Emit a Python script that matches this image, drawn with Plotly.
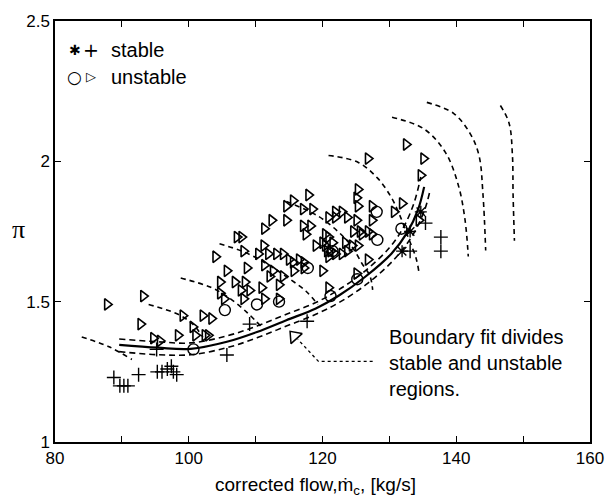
import plotly.graph_objects as go

# ---- data (corrected flow [kg/s], pressure ratio pi) ----
stable_plus_x = [88.8, 89.7, 90.3, 90.9, 92.5, 95.3, 96.0, 96.8, 97.4, 97.7, 98.2, 95.2, 105.7, 109.1, 117.7, 135.4, 133.1, 137.7, 137.7]
stable_plus_y = [1.23, 1.20, 1.20, 1.20, 1.24, 1.25, 1.25, 1.26, 1.27, 1.25, 1.24, 1.33, 1.31, 1.42, 1.43, 1.78, 1.68, 1.73, 1.68]
stable_star_x = [134.7, 131.9, 133.1]
stable_star_y = [1.82, 1.68, 1.75]

unstable_circ_x = [100.7, 105.4, 113.5, 117.8, 121.2, 121.5, 125.2, 128.1, 128.2, 131.8, 110.2]
unstable_circ_y = [1.33, 1.47, 1.50, 1.62, 1.52, 1.68, 1.58, 1.82, 1.72, 1.76, 1.49]

unstable_tri_x = [87.8, 93.2, 92.8, 94.7, 95.7, 98.4, 99.1, 102.1, 103.4, 100.6, 101.0, 102.4, 102.9,
                  104.0, 104.7, 104.7, 105.3, 105.7, 107.2, 107.9, 108.2, 106.9, 108.4, 107.8, 109.1, 108.2, 108.7,
                  110.9, 111.3, 111.2, 111.9, 113.1, 114.1, 110.4, 111.3, 112.6, 114.1, 113.5, 112.1,
                  115.6, 116.5, 117.2, 115.7, 117.2, 115.0, 117.1, 117.5, 118.2, 117.1, 118.5, 119.0, 120.0,
                  120.9, 120.7, 121.9, 120.0, 120.9, 121.9, 122.9, 120.9, 113.5, 117.9, 115.6, 114.6, 114.6, 112.4, 111.3,
                  134.7, 131.9, 130.7, 127.4, 127.4, 126.8, 125.3, 125.1, 125.3, 125.1, 124.6, 125.6, 127.4,
                  124.4, 125.3, 123.7, 122.9, 121.2, 120.4, 120.4, 121.9, 123.7, 132.5, 126.8, 135.1,
                  125.9, 123.4, 121.5, 120.9, 126.8, 125.1, 134.4]
unstable_tri_y = [1.49, 1.52, 1.42, 1.37, 1.36, 1.38, 1.45, 1.45, 1.44, 1.41, 1.38, 1.38, 1.38,
                  1.66, 1.57, 1.53, 1.51, 1.61, 1.73, 1.73, 1.68, 1.57, 1.57, 1.54, 1.54, 1.51, 1.62,
                  1.55, 1.51, 1.70, 1.67, 1.67, 1.67, 1.67, 1.63, 1.61, 1.59, 1.56, 1.59,
                  1.64, 1.65, 1.64, 1.61, 1.62, 1.65, 1.77, 1.74, 1.77, 1.83, 1.83, 1.70, 1.71,
                  1.73, 1.68, 1.67, 1.61, 1.80, 1.82, 1.82, 1.55, 1.51, 1.88, 1.86, 1.84, 1.79, 1.79, 1.76,
                  1.95, 1.85, 1.82, 1.84, 1.79, 1.75, 1.84, 1.87, 1.90, 1.79, 1.75, 1.75, 1.74,
                  1.70, 1.70, 1.68, 1.67, 1.68, 1.74, 1.70, 1.80, 1.80, 2.06, 2.01, 2.01,
                  1.74, 1.71, 1.71, 1.66, 1.65, 1.60, 1.79]

# boundary fit (solid) and its dashed confidence bands
bound_x = [89.6, 95.4, 100.3, 105.7, 110.2, 114.6, 119.0, 122.4, 126.3, 130.3, 132.7, 134.3, 135.2]
bound_y = [1.346, 1.336, 1.332, 1.357, 1.392, 1.434, 1.476, 1.521, 1.587, 1.671, 1.748, 1.829, 1.909]
upper_x = [89.6, 95.4, 100.3, 105.7, 110.2, 114.6, 119.0, 122.4, 126.3, 130.0, 132.2, 133.7, 134.7]
upper_y = [1.367, 1.357, 1.353, 1.378, 1.413, 1.455, 1.497, 1.542, 1.608, 1.692, 1.769, 1.853, 1.944]
lower_x = [89.6, 95.4, 100.3, 105.7, 110.2, 114.6, 119.0, 122.7, 126.8, 130.7, 133.4, 135.2, 136.0]
lower_y = [1.322, 1.311, 1.311, 1.336, 1.371, 1.413, 1.455, 1.500, 1.566, 1.650, 1.734, 1.822, 1.888]

# constant speed lines (dashed)
speed_lines = [
    ([84.0, 88.1, 91.5], [1.374, 1.339, 1.294]),
    ([94.0, 98.4, 100.6, 102.1], [1.490, 1.455, 1.420, 1.374]),
    ([98.8, 103.2, 106.0, 108.7, 110.9], [1.584, 1.552, 1.514, 1.462, 1.409]),
    ([104.6, 108.2, 111.6, 114.9, 117.5, 119.3], [1.706, 1.678, 1.636, 1.584, 1.538, 1.490]),
    ([114.6, 119.4, 122.4, 124.4, 125.9, 127.1, 127.5], [1.857, 1.804, 1.748, 1.696, 1.636, 1.591, 1.542]),
    ([120.9, 125.3, 128.2, 130.3, 131.5, 132.9, 134.0, 134.4], [2.021, 1.997, 1.941, 1.871, 1.811, 1.724, 1.654, 1.608]),
    ([130.4, 135.2, 138.4, 140.3, 141.3, 141.8], [2.157, 2.115, 2.031, 1.916, 1.794, 1.661]),
    ([135.6, 139.6, 142.1, 143.4, 144.0, 144.4], [2.210, 2.171, 2.098, 2.021, 1.881, 1.682]),
    ([146.6, 147.9, 148.4, 148.5, 148.7], [2.199, 2.136, 2.021, 1.881, 1.717]),
]

# annotation leader (dotted) and label
leader_x = [127.5, 119.4, 116.3]
leader_y = [1.287, 1.287, 1.366]
arrow_x = [115.8]
arrow_y = [1.377]
note_text = "Boundary fit divides<br>stable and unstable<br>regions."

FONT = "Liberation Sans, Arial, Helvetica, sans-serif"
fig = go.Figure()

for sx, sy in speed_lines:
    fig.add_trace(go.Scatter(x=sx, y=sy, mode="lines", line=dict(color="black", width=1.6, dash="5px,4px", shape="spline"),
                             hoverinfo="skip", showlegend=False))

fig.add_trace(go.Scatter(x=upper_x, y=upper_y, mode="lines", line=dict(color="black", width=1.6, dash="6px,4px", shape="spline"), showlegend=False))
fig.add_trace(go.Scatter(x=lower_x, y=lower_y, mode="lines", line=dict(color="black", width=1.6, dash="6px,4px", shape="spline"), showlegend=False))
fig.add_trace(go.Scatter(x=bound_x, y=bound_y, mode="lines", line=dict(color="black", width=2.2, shape="spline"), showlegend=False))

fig.add_trace(go.Scatter(x=unstable_tri_x, y=unstable_tri_y, mode="markers",
                         marker=dict(symbol="triangle-right-open", size=10, color="black", line=dict(width=1.6, color="black")), showlegend=False))
fig.add_trace(go.Scatter(x=unstable_circ_x, y=unstable_circ_y, mode="markers",
                         marker=dict(symbol="circle-open", size=11, color="black", line=dict(width=1.4, color="black")), showlegend=False))
fig.add_trace(go.Scatter(x=stable_plus_x, y=stable_plus_y, mode="markers",
                         marker=dict(symbol="cross-thin-open", size=10, color="black", line=dict(width=1.4, color="black")), showlegend=False))
fig.add_trace(go.Scatter(x=stable_star_x, y=stable_star_y, mode="markers",
                         marker=dict(symbol="asterisk-open", size=10, color="black", line=dict(width=1.4, color="black")), showlegend=False))

fig.add_trace(go.Scatter(x=leader_x, y=leader_y, mode="lines", line=dict(color="black", width=1.3, dash="dot"), showlegend=False))
fig.add_trace(go.Scatter(x=arrow_x, y=arrow_y, mode="markers",
                         marker=dict(symbol="triangle-up", size=13, angle=-42, color="white", line=dict(width=1.5, color="black")), showlegend=False))

fig.add_annotation(x=129.6, y=1.28, xref="x", yref="y", text=note_text, showarrow=False, xanchor="left", yanchor="middle",
                   align="left", font=dict(family=FONT, size=20, color="black"))

# legend drawn as text
def legend_item(x, y, txt, size, anchor="center"):
    fig.add_annotation(x=x, y=y, xref="paper", yref="paper", text=txt, showarrow=False, xanchor=anchor,
                       yanchor="middle", font=dict(family=FONT if anchor == "left" else "DejaVu Sans, sans-serif", size=size, color="black"))

legend_item(0.037, 0.932, "✱", 14)
legend_item(0.068, 0.932, "+", 19)
legend_item(0.101, 0.932, "stable", 20, "left")
legend_item(0.037, 0.867, "○", 17)
legend_item(0.068, 0.867, "▷", 13)
legend_item(0.101, 0.867, "unstable", 20, "left")

# axis titles
fig.add_annotation(x=-0.068, y=0.505, xref="paper", yref="paper", text="π", showarrow=False, xanchor="center",
                   yanchor="middle", font=dict(family="Liberation Serif, serif", size=26, color="black"))
fig.add_annotation(x=0.487, y=-0.105, xref="paper", yref="paper", text="corrected flow,ṁ<sub>c</sub>, [kg/s]", showarrow=False,
                   xanchor="center", yanchor="middle", font=dict(family=FONT, size=19, color="black"))

fig.update_xaxes(range=[80, 160], tickvals=[80, 100, 120, 140, 160], ticks="inside", ticklen=6, tickwidth=1.2,
                 minor=dict(tickvals=[90, 110, 130, 150], ticks="inside", ticklen=6, tickwidth=1.2, tickcolor="black"),
                 showline=True, linecolor="black", linewidth=1.5, mirror="ticks", showgrid=False, zeroline=False,
                 tickfont=dict(family=FONT, size=17, color="black"), tickcolor="black")
fig.update_yaxes(range=[1, 2.5], tickvals=[1, 1.5, 2, 2.5], ticktext=["1", "1.5", "2", "2.5"], ticks="inside", ticklen=6, tickwidth=1.2,
                 showline=True, linecolor="black", linewidth=1.5, mirror="ticks", showgrid=False, zeroline=False,
                 tickfont=dict(family=FONT, size=17, color="black"), tickcolor="black")

fig.update_layout(width=616, height=499, margin=dict(l=55, r=17, t=13, b=57), plot_bgcolor="white", paper_bgcolor="white",
                  showlegend=False)

fig.write_html("out.html")
